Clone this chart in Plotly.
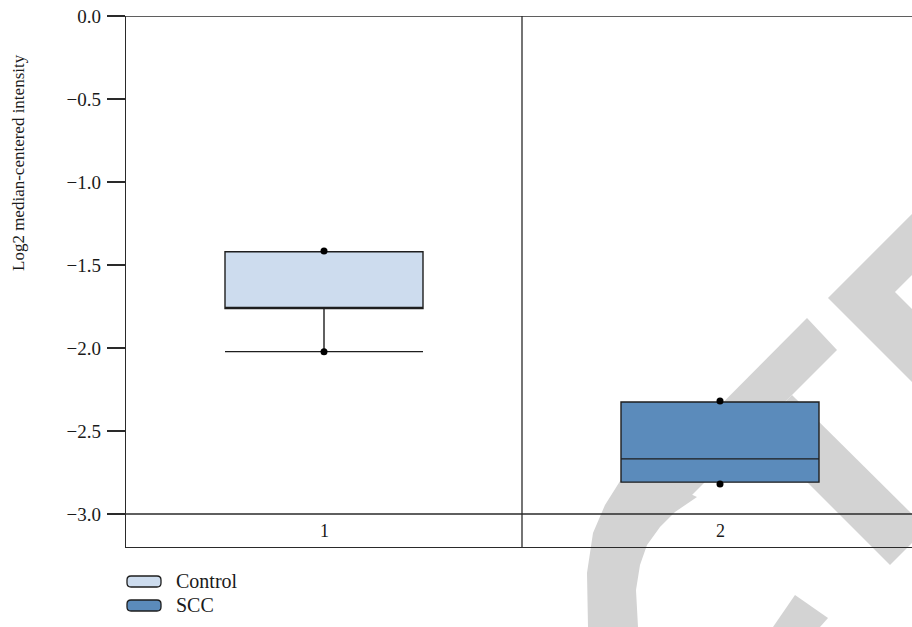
import plotly.graph_objects as go

# ---------------- data ----------------
categories = ["1", "2"]
cat_pos = [1, 2]
groups = ["Control", "SCC"]
q1_vals = [-1.762, -2.808]
median_vals = [-1.755, -2.668]
q3_vals = [-1.420, -2.325]
lower_fence = [-2.022, -2.808]
upper_fence = [-1.420, -2.325]
min_points = [-2.022, -2.820]
max_points = [-1.415, -2.320]
fill_colors = ["#cddcee", "#5b8bbb"]
y_ticks = [0.0, -0.5, -1.0, -1.5, -2.0, -2.5, -3.0]
y_title = "Log2 median-centered intensity"

# ---------------- geometry helpers ----------------
W, H = 912, 627
L, R, T, B = 126, 0, 16, 80
PW, PH = W - L - R, H - T - B
FONT = "Liberation Serif"
LINE = "#2a2a2a"


def px(x):
    return (x - L) / PW


def py(y):
    return (H - B - y) / PH


def poly(points):
    return "M " + " L ".join(f"{px(a):.5f},{py(b):.5f}" for a, b in points) + " Z"


def rrect(x0, y0, x1, y1, r):
    rx, ry = r / PW, r / PH
    X0, X1 = px(x0), px(x1)
    Y0, Y1 = py(y1), py(y0)
    return (f"M {X0+rx:.5f},{Y1:.5f} L {X1-rx:.5f},{Y1:.5f} Q {X1:.5f},{Y1:.5f} {X1:.5f},{Y1-ry:.5f} "
            f"L {X1:.5f},{Y0+ry:.5f} Q {X1:.5f},{Y0:.5f} {X1-rx:.5f},{Y0:.5f} "
            f"L {X0+rx:.5f},{Y0:.5f} Q {X0:.5f},{Y0:.5f} {X0:.5f},{Y0+ry:.5f} "
            f"L {X0:.5f},{Y1-ry:.5f} Q {X0:.5f},{Y1:.5f} {X0+rx:.5f},{Y1:.5f} Z")


fig = go.Figure()

for i, g in enumerate(groups):
    fig.add_trace(go.Box(
        name=g, x=[cat_pos[i]],
        q1=[q1_vals[i]], median=[median_vals[i]], q3=[q3_vals[i]],
        lowerfence=[lower_fence[i]], upperfence=[upper_fence[i]],
        width=0.5, whiskerwidth=1,
        fillcolor=fill_colors[i],
        line=dict(color="#1e1e1e", width=1.4),
        boxpoints=False, showlegend=False, hoverinfo="skip",
    ))

fig.add_trace(go.Scatter(
    x=cat_pos + cat_pos, y=min_points + max_points, mode="markers",
    marker=dict(color="black", size=7), showlegend=False, hoverinfo="skip",
))

shapes = []
# watermark (light grey, behind everything)
wm = "#d3d3d3"
wm_polys = [
    [(912, 214), (828, 298), (912, 382), (912, 309), (895, 292), (912, 275)],
    [(756, 431), (792, 395), (912, 514), (912, 543), (890, 565)],
    [(807, 318), (837, 350), (690, 497), (640, 486)],
    [(622, 478), (660, 480), (697, 497), (675, 512), (660, 527), (647, 545), (640, 565),
     (636, 590), (638, 627), (588, 627), (587, 573), (593, 533), (605, 505)],
    [(795, 595), (828, 618), (820, 627), (773, 627)],
]
for p in wm_polys:
    shapes.append(dict(type="path", path=poly(p), xref="paper", yref="paper",
                       fillcolor=wm, line=dict(width=0), layer="below"))

# frame lines
for yv in (y_ticks[0], y_ticks[-1]):
    shapes.append(dict(type="line", xref="paper", yref="y", x0=0, x1=1, y0=yv, y1=yv,
                       line=dict(color=LINE, width=1.3)))
shapes.append(dict(type="line", xref="x", yref="paper", x0=1.5, x1=1.5, y0=0, y1=1,
                   line=dict(color=LINE, width=1.3)))

# legend symbols
leg_y = [581.5, 605.5]
for i, g in enumerate(groups):
    shapes.append(dict(type="path", path=rrect(127, leg_y[i] - 5.5, 161, leg_y[i] + 5.5, 4),
                       xref="paper", yref="paper", fillcolor=fill_colors[i],
                       line=dict(color="#1e1e1e", width=1.3)))

annotations = []
for i, g in enumerate(groups):
    annotations.append(dict(text=g, x=px(174), y=py(leg_y[i] - 1), xref="paper", yref="paper",
                            xanchor="left", yanchor="middle", showarrow=False,
                            font=dict(family=FONT, size=20, color="#1a1a1a")))
for c, xp in zip(categories, cat_pos):
    annotations.append(dict(text=c, x=xp, y=-3.102, xref="x", yref="y",
                            xanchor="center", yanchor="middle", showarrow=False,
                            font=dict(family=FONT, size=18, color="#1a1a1a")))
annotations.append(dict(text=y_title, x=px(18), y=py(163), xref="paper", yref="paper",
                        textangle=-90, xanchor="center", yanchor="middle", showarrow=False,
                        font=dict(family=FONT, size=17, color="#1a1a1a")))

fig.update_layout(
    width=W, height=H,
    margin=dict(l=L, r=R, t=T, b=B, pad=0),
    paper_bgcolor="white", plot_bgcolor="rgba(0,0,0,0)",
    boxmode="overlay",
    shapes=shapes, annotations=annotations,
    showlegend=False,
    xaxis=dict(range=[0.5, 0.5 + PW / 396.0], showgrid=False, zeroline=False,
               showticklabels=False, ticks="", showline=True, linecolor=LINE, linewidth=1.3,
               fixedrange=True),
    yaxis=dict(range=[-3.0 - 33 / 166.0, 0.0], showgrid=False, zeroline=False,
               tickvals=y_ticks, tickformat=".1f", ticks="outside", ticklen=18,
               tickwidth=1.3, tickcolor=LINE, showline=True, linecolor=LINE, linewidth=1.3,
               ticklabelstandoff=2, ticklabeloverflow="allow",
               tickfont=dict(family=FONT, size=19, color="#1a1a1a"), fixedrange=True),
    font=dict(family=FONT),
)

fig.write_html("out.html", config={"displayModeBar": False, "staticPlot": True},
               post_script="document.body.style.margin='0';document.body.style.overflow='hidden';")
